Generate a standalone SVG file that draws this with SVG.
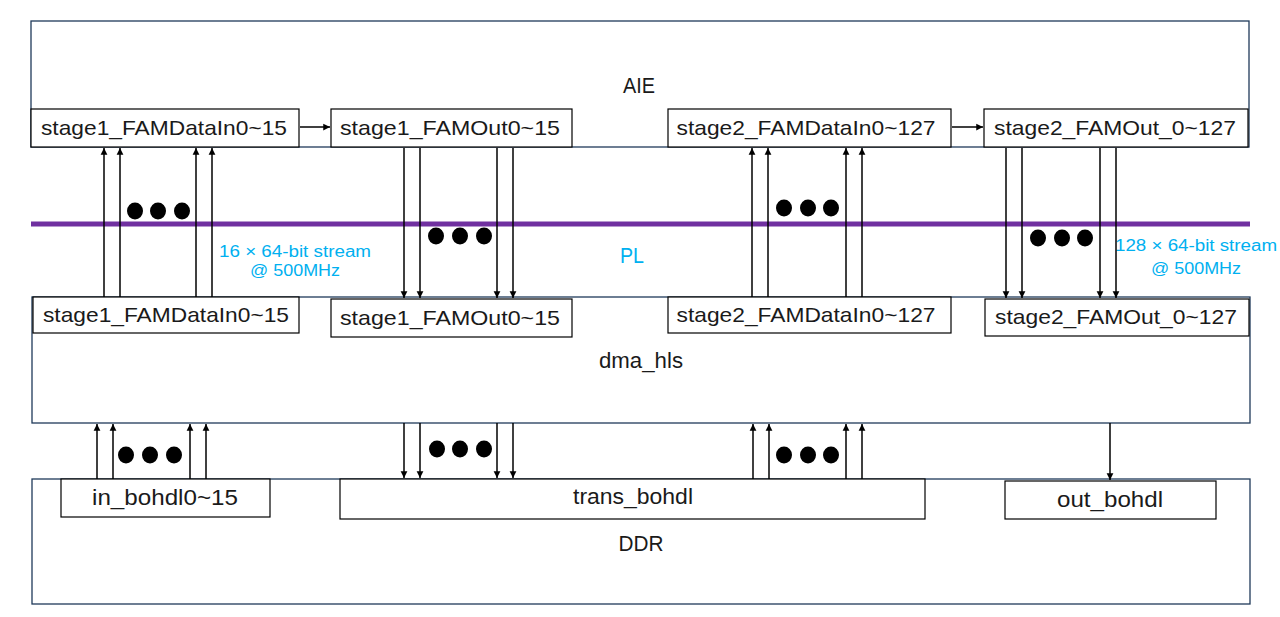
<svg xmlns="http://www.w3.org/2000/svg" width="1280" height="617" viewBox="0 0 1280 617">
<style>
.outer{fill:none;stroke:#1F3A5A;stroke-width:1.3}
.box{fill:#fff;stroke:#000;stroke-width:1.2}
.lbl{font-family:"Liberation Sans","Noto Sans",sans-serif;font-size:21px;fill:#1a1a1a;text-anchor:middle}
.big{font-family:"Liberation Sans","Noto Sans",sans-serif;font-size:22px;fill:#1a1a1a;text-anchor:middle}
.blue{font-family:"Liberation Sans","Noto Sans",sans-serif;font-size:16px;fill:#00B0F0;text-anchor:middle}
.ar{stroke:#000;stroke-width:1.5;fill:none;marker-end:url(#ah)}
.dot{fill:#000}
</style>
<defs>
<marker id="ah" viewBox="0 0 10 10" refX="10" refY="5" markerWidth="4.5" markerHeight="5" orient="auto" markerUnits="strokeWidth">
<path d="M0,0 L10,5 L0,10 z" fill="#000"/>
</marker>
</defs>
<rect width="1280" height="617" fill="#fff"/>
<g id="aie">
<rect class="outer" x="31" y="21" width="1218" height="126"/>
<text class="big" x="639" y="93" textLength="32" lengthAdjust="spacingAndGlyphs">AIE</text>
</g>
<g id="pl">
<line x1="31" y1="224" x2="1250" y2="224" stroke="#7030A0" stroke-width="5"/>
<text class="big" x="632" y="263" style="fill:#00B0F0" textLength="24" lengthAdjust="spacingAndGlyphs">PL</text>
</g>
<g id="dma_hls">
<rect class="outer" x="32" y="297" width="1218" height="126"/>
<text class="big" x="641" y="368" textLength="84" lengthAdjust="spacingAndGlyphs">dma_hls</text>
</g>
<g id="ddr">
<rect class="outer" x="32" y="479" width="1218" height="125"/>
<text class="big" x="641" y="551" textLength="45" lengthAdjust="spacingAndGlyphs">DDR</text>
</g>
<g id="aie_s1_in">
<rect class="box" x="31" y="109" width="268" height="38"/>
<text class="lbl" x="164" y="135" textLength="246" lengthAdjust="spacingAndGlyphs">stage1_FAMDataIn0~15</text>
</g>
<g id="aie_s1_out">
<rect class="box" x="331" y="109" width="241" height="38"/>
<text class="lbl" x="450" y="135" textLength="220" lengthAdjust="spacingAndGlyphs">stage1_FAMOut0~15</text>
</g>
<g id="aie_s2_in">
<rect class="box" x="668" y="109" width="283" height="38"/>
<text class="lbl" x="806" y="135" textLength="259" lengthAdjust="spacingAndGlyphs">stage2_FAMDataIn0~127</text>
</g>
<g id="aie_s2_out">
<rect class="box" x="984" y="109" width="264" height="38"/>
<text class="lbl" x="1115" y="135" textLength="242" lengthAdjust="spacingAndGlyphs">stage2_FAMOut_0~127</text>
</g>
<g id="dma_s1_in">
<rect class="box" x="33" y="297" width="266" height="36"/>
<text class="lbl" x="166" y="322" textLength="246" lengthAdjust="spacingAndGlyphs">stage1_FAMDataIn0~15</text>
</g>
<g id="dma_s1_out">
<rect class="box" x="331" y="299" width="241" height="38"/>
<text class="lbl" x="450" y="325" textLength="220" lengthAdjust="spacingAndGlyphs">stage1_FAMOut0~15</text>
</g>
<g id="dma_s2_in">
<rect class="box" x="668" y="297" width="283" height="36"/>
<text class="lbl" x="806" y="322" textLength="259" lengthAdjust="spacingAndGlyphs">stage2_FAMDataIn0~127</text>
</g>
<g id="dma_s2_out">
<rect class="box" x="985" y="299" width="264" height="37"/>
<text class="lbl" x="1116" y="324" textLength="242" lengthAdjust="spacingAndGlyphs">stage2_FAMOut_0~127</text>
</g>
<g id="ddr_in">
<rect class="box" x="61" y="479" width="209" height="38"/>
<text class="big" x="165" y="505" textLength="146" lengthAdjust="spacingAndGlyphs">in_bohdl0~15</text>
</g>
<g id="ddr_trans">
<rect class="box" x="340" y="479" width="585" height="40"/>
<text class="big" x="633" y="504" textLength="120" lengthAdjust="spacingAndGlyphs">trans_bohdl</text>
</g>
<g id="ddr_out">
<rect class="box" x="1005" y="481" width="211" height="38"/>
<text class="big" x="1110" y="507" textLength="106" lengthAdjust="spacingAndGlyphs">out_bohdl</text>
</g>
<g id="notes">
<text class="blue" x="295" y="257" textLength="152" lengthAdjust="spacingAndGlyphs">16 × 64-bit stream</text>
<text class="blue" x="295" y="276" textLength="90" lengthAdjust="spacingAndGlyphs">@ 500MHz</text>
<text class="blue" x="1196" y="251" textLength="162" lengthAdjust="spacingAndGlyphs">128 × 64-bit stream</text>
<text class="blue" x="1196" y="274" textLength="90" lengthAdjust="spacingAndGlyphs">@ 500MHz</text>
</g>
<g id="connectors">
<line class="ar" x1="300" y1="127" x2="330" y2="127"/>
<line class="ar" x1="952" y1="127" x2="983" y2="127"/>
<line class="ar" x1="104" y1="297" x2="104" y2="148"/>
<line class="ar" x1="120" y1="297" x2="120" y2="148"/>
<line class="ar" x1="196" y1="297" x2="196" y2="148"/>
<line class="ar" x1="212" y1="297" x2="212" y2="148"/>
<line class="ar" x1="404" y1="148" x2="404" y2="298"/>
<line class="ar" x1="420" y1="148" x2="420" y2="298"/>
<line class="ar" x1="497" y1="148" x2="497" y2="298"/>
<line class="ar" x1="513" y1="148" x2="513" y2="298"/>
<line class="ar" x1="752" y1="297" x2="752" y2="148"/>
<line class="ar" x1="768" y1="297" x2="768" y2="148"/>
<line class="ar" x1="846" y1="297" x2="846" y2="148"/>
<line class="ar" x1="862" y1="297" x2="862" y2="148"/>
<line class="ar" x1="1006" y1="148" x2="1006" y2="298"/>
<line class="ar" x1="1022" y1="148" x2="1022" y2="298"/>
<line class="ar" x1="1100" y1="148" x2="1100" y2="298"/>
<line class="ar" x1="1116" y1="148" x2="1116" y2="298"/>
<line class="ar" x1="97" y1="479" x2="97" y2="424"/>
<line class="ar" x1="113" y1="479" x2="113" y2="424"/>
<line class="ar" x1="190" y1="479" x2="190" y2="424"/>
<line class="ar" x1="206" y1="479" x2="206" y2="424"/>
<line class="ar" x1="404" y1="423" x2="404" y2="478"/>
<line class="ar" x1="420" y1="423" x2="420" y2="478"/>
<line class="ar" x1="497" y1="423" x2="497" y2="478"/>
<line class="ar" x1="513" y1="423" x2="513" y2="478"/>
<line class="ar" x1="753" y1="479" x2="753" y2="424"/>
<line class="ar" x1="769" y1="479" x2="769" y2="424"/>
<line class="ar" x1="846" y1="479" x2="846" y2="424"/>
<line class="ar" x1="862" y1="479" x2="862" y2="424"/>
<line class="ar" x1="1110" y1="423" x2="1110" y2="480"/>
</g>
<g id="ellipsis">
<ellipse class="dot" cx="135" cy="211" rx="8" ry="8.5"/>
<ellipse class="dot" cx="158" cy="211" rx="8" ry="8.5"/>
<ellipse class="dot" cx="182" cy="211" rx="8" ry="8.5"/>
<ellipse class="dot" cx="436" cy="236" rx="8" ry="8.5"/>
<ellipse class="dot" cx="460" cy="236" rx="8" ry="8.5"/>
<ellipse class="dot" cx="484" cy="236" rx="8" ry="8.5"/>
<ellipse class="dot" cx="784" cy="208" rx="8" ry="8.5"/>
<ellipse class="dot" cx="808" cy="208" rx="8" ry="8.5"/>
<ellipse class="dot" cx="831" cy="208" rx="8" ry="8.5"/>
<ellipse class="dot" cx="1038" cy="238" rx="8" ry="8.5"/>
<ellipse class="dot" cx="1062" cy="238" rx="8" ry="8.5"/>
<ellipse class="dot" cx="1085" cy="238" rx="8" ry="8.5"/>
<ellipse class="dot" cx="126" cy="455" rx="8" ry="8.5"/>
<ellipse class="dot" cx="150" cy="455" rx="8" ry="8.5"/>
<ellipse class="dot" cx="174" cy="455" rx="8" ry="8.5"/>
<ellipse class="dot" cx="437" cy="449" rx="8" ry="8.5"/>
<ellipse class="dot" cx="460" cy="449" rx="8" ry="8.5"/>
<ellipse class="dot" cx="484" cy="449" rx="8" ry="8.5"/>
<ellipse class="dot" cx="784" cy="455" rx="8" ry="8.5"/>
<ellipse class="dot" cx="808" cy="455" rx="8" ry="8.5"/>
<ellipse class="dot" cx="831" cy="455" rx="8" ry="8.5"/>
</g>
</svg>
